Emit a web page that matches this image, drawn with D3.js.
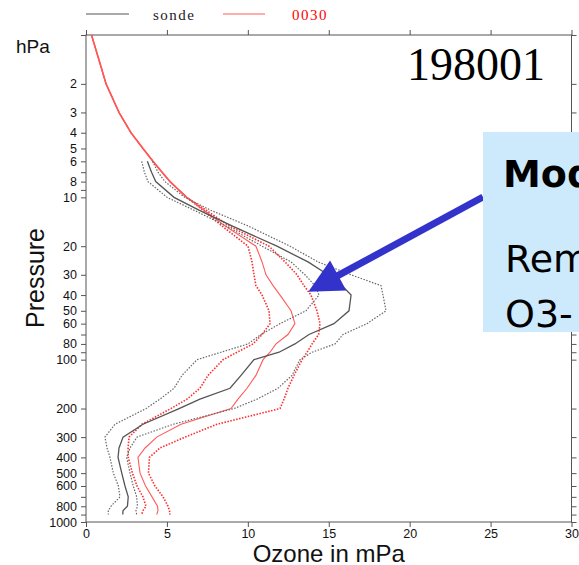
<!DOCTYPE html>
<html>
<head>
<meta charset="utf-8">
<script src="https://cdn.jsdelivr.net/npm/d3@7/dist/d3.min.js"></script>
<style>
  html, body { margin: 0; padding: 0; background: #fff; }
  svg { display: block; }
</style>
</head>
<body>
<svg id="chart" width="579" height="565"></svg>
<script>
// Pressure levels (hPa) shared by every profile
const pressure = [1, 1.5, 2, 3, 4, 5, 6, 7, 8, 10, 12, 15, 20, 25, 30, 35, 40, 50, 60, 70, 80, 90,
                  100, 125, 150, 175, 200, 250, 300, 350, 400, 500, 600, 700, 800, 850, 900];

// Ozonesonde climatology (mPa): mean and mean ± one standard deviation; no data above 6 hPa
const sondeMean = [null, null, null, null, null, null, 3.79, 4.05, 4.31, 5.44, 6.98, 9.02, 11.80, 13.72, 14.95, 15.82, 16.38, 16.25, 15.32, 13.78, 12.91, 11.93,
                   10.38, 9.58, 8.90, 7.04, 5.75, 3.52, 2.29, 2.04, 1.98, 2.21, 2.41, 2.61, 2.56, 2.29, 2.27];
const sondeLow  = [null, null, null, null, null, null, 3.44, 3.61, 3.83, 5.01, 6.67, 8.65, 10.88, 12.67, 13.53, 14.15, 14.40, 13.59, 11.99, 10.81, 10.01, 8.34,
                   6.86, 5.93, 5.44, 4.57, 3.71, 1.79, 1.17, 1.30, 1.48, 1.69, 2.00, 2.10, 1.54, 1.38, 1.38];
const sondeHigh = [null, null, null, null, null, null, 4.11, 4.45, 4.88, 6.10, 7.70, 10.01, 12.61, 14.34, 16.38, 18.23, 18.35, 18.54, 17.36, 15.88, 15.39, 13.97,
                   13.22, 12.73, 11.86, 10.57, 9.15, 5.38, 3.15, 2.72, 2.51, 2.72, 2.92, 3.13, 3.18, 3.09, 3.13];

// Model run "0030" (mPa): mean and mean ± one standard deviation
const modelMean = [0.34, 0.87, 1.24, 2.04, 2.78, 3.52, 4.14, 4.70, 5.19, 6.22, 7.29, 8.59, 10.50, 10.88, 11.12, 11.56, 11.99, 12.67, 12.91, 12.48, 11.74, 11.37,
                   10.94, 10.50, 9.95, 9.39, 8.96, 5.87, 4.37, 3.65, 3.21, 3.34, 3.68, 4.08, 4.42, 4.45, 4.37];
const modelLow  = [0.34, 0.87, 1.24, 2.04, 2.78, 3.52, 4.14, 4.70, 5.19, 6.22, 7.23, 8.40, 10.01, 10.26, 10.38, 10.50, 10.88, 11.31, 11.37, 10.88, 10.32, 9.33,
                   8.47, 7.54, 7.04, 6.24, 5.25, 3.46, 2.66, 2.60, 2.61, 2.87, 3.15, 3.52, 3.71, 3.52, 3.44];
const modelHigh = [0.34, 0.87, 1.24, 2.04, 2.78, 3.52, 4.14, 4.70, 5.19, 6.22, 7.42, 8.84, 11.31, 12.30, 13.04, 13.47, 13.90, 14.27, 14.46, 14.37, 13.97, 13.66,
                   13.35, 12.85, 12.48, 12.24, 11.99, 8.09, 6.12, 4.57, 3.92, 3.86, 4.26, 4.76, 5.07, 5.16, 5.19];

// Axis ticks
const xTicks = [0, 5, 10, 15, 20, 25, 30];
const yTicks = [1, 2, 3, 4, 5, 6, 7, 8, 9, 10, 20, 30, 40, 50, 60, 70, 80, 90, 100, 200, 300, 400, 500, 600, 700, 800, 900, 1000];
const yLabels = [2, 3, 4, 5, 6, 8, 10, 20, 30, 40, 50, 60, 80, 100, 200, 300, 400, 500, 600, 800, 1000];

const title = "198001";
const legendItems = [
  { name: "sonde", color: "#555555", textColor: "#222222" },
  { name: "0030", color: "#ff5a5a", textColor: "#ff0000" }
];
const noteLines = ["Model", "Remaining", "O3-"];

const svg = d3.select("#chart");
const plot = { left: 86, right: 571.5, top: 35, bottom: 522 };

const x = d3.scaleLinear().domain([0, 30]).range([plot.left, plot.right]);
const y = d3.scaleLog().domain([1, 1000]).range([plot.top, plot.bottom]);

const axisColor = "#555";
const tickFont = "'Liberation Sans', Arial, sans-serif";

// Left axis with labels
const gLeft = svg.append("g").attr("transform", `translate(${plot.left},0)`)
  .call(d3.axisLeft(y).tickValues(yTicks).tickSize(5).tickPadding(4)
    .tickFormat(d => yLabels.includes(d) ? d : ""));
// Right, top and bottom ticks
const gRight = svg.append("g").attr("transform", `translate(${plot.right},0)`)
  .call(d3.axisRight(y).tickValues(yTicks).tickSize(5).tickFormat(""));
const gTop = svg.append("g").attr("transform", `translate(0,${plot.top})`)
  .call(d3.axisTop(x).tickValues(xTicks).tickSize(5).tickFormat(""));
const gBottom = svg.append("g").attr("transform", `translate(0,${plot.bottom})`)
  .call(d3.axisBottom(x).tickValues(xTicks).tickSize(5).tickPadding(2));

[gLeft, gRight, gTop, gBottom].forEach(g => {
  g.select(".domain").remove();
  g.selectAll(".tick line").attr("stroke", axisColor);
  g.selectAll("text").attr("font-family", tickFont).attr("font-size", 12.5).attr("fill", "#111");
});

// Plot frame
svg.append("rect")
  .attr("x", plot.left).attr("y", plot.top)
  .attr("width", plot.right - plot.left).attr("height", plot.bottom - plot.top)
  .attr("fill", "none").attr("stroke", axisColor).attr("stroke-width", 1);

// Profiles
const line = d3.line()
  .defined(d => d[0] != null)
  .x(d => x(d[0]))
  .y(d => y(d[1]));

const profiles = [
  { values: modelLow,  color: "#ff2a2a", dash: "1.5,1.5", offset: 0,   width: 1.6 },
  { values: modelHigh, color: "#ff2a2a", dash: "1.5,1.5", offset: 1.5, width: 1.6 },
  { values: modelMean, color: "#ff5a5a", dash: null,      offset: 0,   width: 1.1 },
  { values: sondeLow,  color: "#666666", dash: "1.5,1.5", offset: 0,   width: 1.2 },
  { values: sondeHigh, color: "#666666", dash: "1.5,1.5", offset: 0,   width: 1.2 },
  { values: sondeMean, color: "#555555", dash: null,      offset: 0,   width: 1.3 }
];

svg.append("g").selectAll("path")
  .data(profiles)
  .join("path")
  .attr("d", p => line(p.values.map((v, i) => [v, pressure[i]])))
  .attr("fill", "none")
  .attr("stroke", p => p.color)
  .attr("stroke-width", p => p.width)
  .attr("stroke-dasharray", p => p.dash)
  .attr("stroke-dashoffset", p => p.offset);

// Axis titles
svg.append("text")
  .attr("x", 16).attr("y", 53)
  .attr("font-family", tickFont).attr("font-size", 19).attr("fill", "#111")
  .text("hPa");

svg.append("text")
  .attr("transform", "translate(44,278) rotate(-90)")
  .attr("text-anchor", "middle")
  .attr("font-family", tickFont).attr("font-size", 25).attr("fill", "#111")
  .text("Pressure");

svg.append("text")
  .attr("x", (plot.left + plot.right) / 2).attr("y", 562)
  .attr("text-anchor", "middle")
  .attr("font-family", tickFont).attr("font-size", 24).attr("fill", "#111")
  .text("Ozone in mPa");

// Title
svg.append("text")
  .attr("x", 545).attr("y", 80)
  .attr("text-anchor", "end")
  .attr("font-family", "'Liberation Serif', 'Times New Roman', serif")
  .attr("font-size", 46).attr("fill", "#000")
  .text(title);

// Legend
const legendX = [[86, 129, 153], [223, 265, 292]];
legendItems.forEach((item, i) => {
  const [x0, x1, tx] = legendX[i];
  svg.append("line")
    .attr("x1", x0).attr("x2", x1).attr("y1", 14).attr("y2", 14)
    .attr("stroke", item.color).attr("stroke-width", 1.2);
  svg.append("text")
    .attr("x", tx).attr("y", 20)
    .attr("font-family", "'Liberation Serif', 'Times New Roman', serif")
    .attr("font-size", 15).attr("letter-spacing", 1.5)
    .attr("fill", item.textColor)
    .text(item.name);
});

// Annotation callout
const arrowColor = "#3333cc";
const tail = [483, 197], tip = [308.3, 291.7];
const dx = tip[0] - tail[0], dy = tip[1] - tail[1];
const len = Math.hypot(dx, dy), ux = dx / len, uy = dy / len;
const headLen = 34, headHalf = 17;
const base = [tip[0] - ux * headLen, tip[1] - uy * headLen];
svg.append("line")
  .attr("x1", tail[0]).attr("y1", tail[1])
  .attr("x2", base[0] + ux * 2).attr("y2", base[1] + uy * 2)
  .attr("stroke", arrowColor).attr("stroke-width", 7);
svg.append("path")
  .attr("d", `M${tip[0]},${tip[1]}L${base[0] - uy * headHalf},${base[1] + ux * headHalf}L${base[0] + uy * headHalf},${base[1] - ux * headHalf}Z`)
  .attr("fill", arrowColor);

svg.append("rect")
  .attr("x", 483).attr("y", 132).attr("width", 120).attr("height", 200)
  .attr("fill", "#cdeafc");

const noteFont = "'DejaVu Sans', sans-serif";
svg.append("text")
  .attr("x", 503).attr("y", 187)
  .attr("font-family", noteFont).attr("font-weight", "bold").attr("font-size", 38)
  .attr("fill", "#000")
  .text(noteLines[0]);
svg.append("text")
  .attr("x", 505).attr("y", 272)
  .attr("font-family", noteFont).attr("font-size", 38)
  .attr("fill", "#000")
  .text(noteLines[1]);
svg.append("text")
  .attr("x", 505).attr("y", 327)
  .attr("font-family", noteFont).attr("font-size", 38)
  .attr("fill", "#000")
  .text(noteLines[2]);
</script>
</body>
</html>
